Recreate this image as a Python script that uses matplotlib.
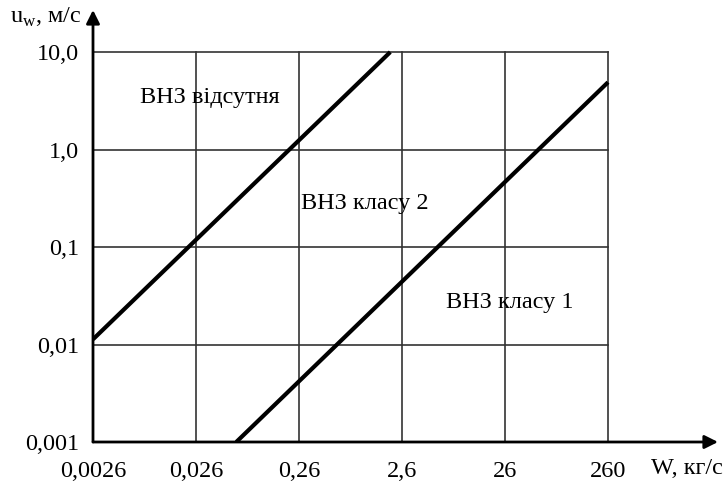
import numpy as np
import matplotlib.pyplot as plt

plt.rcParams['font.family'] = ['Liberation Serif', 'DejaVu Serif']
plt.rcParams['mathtext.fontset'] = 'custom'
plt.rcParams['mathtext.rm'] = 'Liberation Serif'

# tick positions and labels
x_ticks = [0.0026, 0.026, 0.26, 2.6, 26, 260]
x_labels = ['0,0026', '0,026', '0,26', '2,6', '26', '260']
y_ticks = [0.001, 0.01, 0.1, 1, 10]
y_labels = ['0,001', '0,01', '0,1', '1,0', '10,0']

# boundary lines
line1_w = [0.0026, 2.0]
line1_u = [0.0113, 10.0]
line2_w = [0.064, 260]
line2_u = [0.001, 4.9]

# region labels
region_text = ['ВНЗ відсутня', 'ВНЗ класу 2', 'ВНЗ класу 1']
region_w = [0.0074, 0.27, 7.0]
region_u = [3.45, 0.28, 0.0267]

fs = 17.5

fig = plt.figure(figsize=(7.24, 4.84), dpi=100)
ax = fig.add_axes([93 / 724, 42 / 484, (718 - 93) / 724, (442 - 10) / 484])
ax.set_xscale('log')
ax.set_yscale('log')
ax.set_xlim(0.0026, 3040)
ax.set_ylim(0.001, 27)

# grid inside the box only
for xv in x_ticks[1:]:
    ax.plot([xv, xv], [y_ticks[0], y_ticks[-1]], color='#333333', lw=1.2, zorder=1)
for yv in y_ticks[1:]:
    ax.plot([x_ticks[0], x_ticks[-1]], [yv, yv], color='#333333', lw=1.2, zorder=1)

ax.plot(line1_w, line1_u, color='black', lw=3, solid_capstyle='butt', zorder=3)
ax.plot(line2_w, line2_u, color='black', lw=3, solid_capstyle='butt', zorder=3)

for t, xv, yv in zip(region_text, region_w, region_u):
    ax.text(xv, yv, t, fontsize=fs, va='center', ha='left')

for s in ax.spines.values():
    s.set_visible(False)

# axes with arrows
ax.annotate('', xy=(1.0, 0), xytext=(0, 0), xycoords='axes fraction',
            arrowprops=dict(arrowstyle='-|>', color='black', lw=2,
                            mutation_scale=20, shrinkA=0, shrinkB=0))
ax.annotate('', xy=(0, 1.0), xytext=(0, 0), xycoords='axes fraction',
            arrowprops=dict(arrowstyle='-|>', color='black', lw=2,
                            mutation_scale=20, shrinkA=0, shrinkB=0))

ax.set_xticks(x_ticks)
ax.set_xticklabels(x_labels)
ax.set_yticks(y_ticks)
ax.set_yticklabels(y_labels)
ax.minorticks_off()
ax.tick_params(axis='both', length=0, labelsize=fs)
ax.tick_params(axis='x', pad=14)
ax.tick_params(axis='y', pad=10)

fig.text(651 / 724, 1 - 468 / 484, 'W, кг/с', fontsize=fs, ha='left', va='center')
fig.text(10 / 724, 1 - 17 / 484, 'u$_{\\mathrm{w}}$, м/с', fontsize=fs, ha='left', va='center')

fig.savefig('out.png', dpi=100)
